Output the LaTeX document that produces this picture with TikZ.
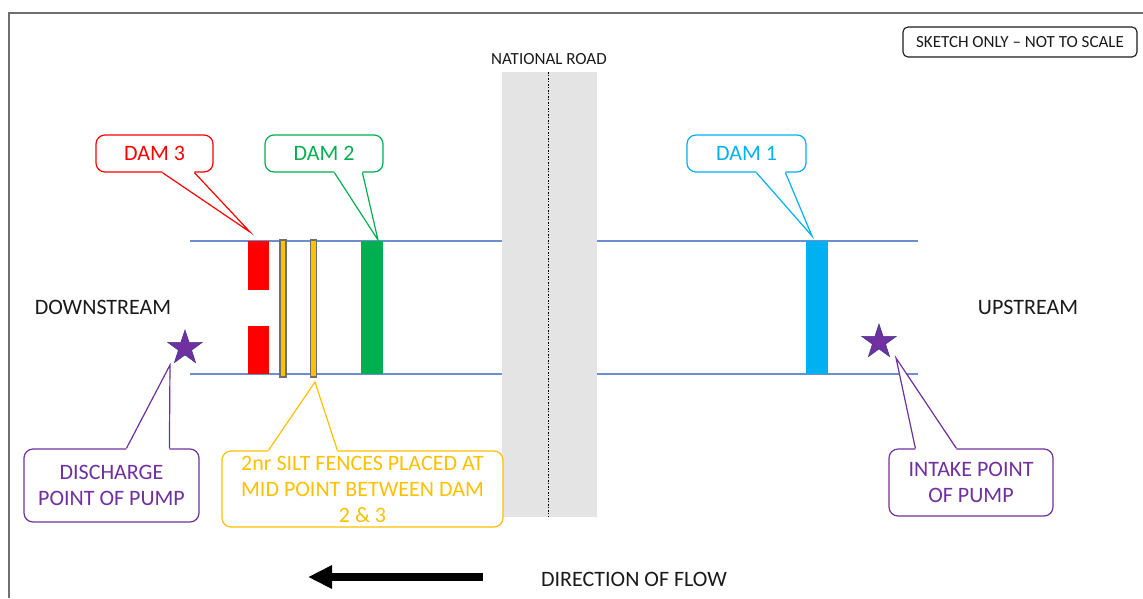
\documentclass[tikz,border=0pt]{standalone}
\usepackage{fontspec}
\setmainfont{Carlito}
\usetikzlibrary{arrows.meta,positioning,shapes.geometric}
\definecolor{damred}{HTML}{FF0000}
\definecolor{damgreen}{HTML}{00B050}
\definecolor{damblue}{HTML}{00B0F0}
\definecolor{siltorange}{HTML}{FFC000}
\definecolor{pumppurple}{HTML}{7030A0}
\definecolor{riverblue}{HTML}{6C8ECF}
\definecolor{roadgray}{HTML}{E4E4E4}
\definecolor{fencegray}{HTML}{6F6F6F}
\definecolor{starline}{HTML}{3E3A8C}
\definecolor{txtblack}{HTML}{1A1A1A}

\begin{document}
\begin{tikzpicture}[x=1pt,y=-1pt,
        bigtxt/.style={font=\fontsize{22}{26}\selectfont, align=center},
        smalltxt/.style={font=\fontsize{17}{19}\selectfont, text=txtblack},
        damblock/.style={rectangle, inner sep=0pt, minimum width=22pt, minimum height=133pt},
        fence/.style={rectangle, inner sep=0pt, draw=fencegray, line width=1.1pt,
            fill=siltorange, minimum width=6pt, minimum height=137pt},
        callout/.style={rectangle, rounded corners=9pt, draw, fill=white,
            line width=1.2pt, inner sep=0pt, bigtxt},
        pump/.style={star, star points=5, star point ratio=2.6, minimum size=36pt,
            inner sep=0pt, fill=pumppurple, draw=starline, line width=0.6pt},
        flowarrow/.style={-{Triangle[length=24pt,width=22pt]}, line width=8pt}
        ]
        \useasboundingbox (0,0) rectangle (1143,598);

        % frame
        \draw[fencegray, line width=1.5pt] (9,598) -- (9,13) -- (1143,13);

        % river banks
        \draw[riverblue, line width=1.1pt] (190,241) -- (918,241);
        \draw[riverblue, line width=1.1pt] (190,374) -- (918,374);

        % road
        \node[rectangle, fill=roadgray, inner sep=0pt, minimum width=95pt,
            minimum height=445pt] (road) at (549.5,294.5) {};
        \draw[dash pattern=on 2pt off 1.5pt on 1pt off 1.5pt, line width=1pt] ([xshift=-1.5pt]road.north) -- ([xshift=-1.5pt]road.south);
        \node[smalltxt] (roadlbl) at (549,59) {NATIONAL ROAD};

        % dams and fences
        \node[damblock, fill=damred, minimum width=21pt, minimum height=49pt] (dam3a) at (258.5,265.5) {};
        \node[damblock, fill=damred, minimum width=21pt, minimum height=48pt] (dam3b) at (258.5,350) {};
        \node[fence] (fence1) at (283,308.5) {};
        \node[fence] (fence2) at (313.5,308.5) {};
        \node[damblock, fill=damgreen] (dam2) at (372,307.5) {};
        \node[damblock, fill=damblue] (dam1) at (817,307.5) {};

        % pumps
        \node[pump] (outpump) at (185,348) {};
        \node[pump] (inpump) at (879,342) {};

        \node[bigtxt, text=txtblack] (down) at (103,307) {DOWNSTREAM};
        \node[bigtxt, text=txtblack] (up) at (1028,307) {UPSTREAM};

        % callouts
        \node[callout, draw=damred, text=damred, minimum width=117pt, minimum height=37pt] (lbl3) at (154.5,153.5) {DAM 3};
        \node[callout, draw=damgreen, text=damgreen, minimum width=118pt, minimum height=37pt] (lbl2) at (324,153.5) {DAM 2};
        \node[callout, draw=damblue, text=damblue, minimum width=119pt, minimum height=37pt] (lbl1) at (746.5,153.5) {DAM 1};
        \node[callout, draw=pumppurple, text=pumppurple, minimum width=175pt, minimum height=73pt] (lbldis) at (111.5,485.5) {DISCHARGE\\POINT OF PUMP};
        \node[callout, draw=siltorange, text=siltorange, minimum width=281pt, minimum height=76pt] (lblsilt) at (362.5,489) {2nr SILT FENCES PLACED AT\\MID POINT BETWEEN DAM\\2 \& 3};
        \node[callout, draw=pumppurple, text=pumppurple, minimum width=164pt, minimum height=67pt] (lblin) at (971,482.5) {INTAKE POINT\\OF PUMP};

        \coordinate (t3) at (250,232);
        \coordinate (t2) at (378,240);
        \coordinate (t1) at (812,236);
        \coordinate (tdis) at (170,365);
        \coordinate (tsilt) at (315,382);
        \coordinate (tin) at (896,358);

        \foreach \bx/\a/\b/\tp/\col in {% box/base start/base end/tip/colour
            lbl3/67/99/t3/damred,
            lbl2/70/98/t2/damgreen,
            lbl1/70/99/t1/damblue}
            {
            \fill[white] ([xshift=\a pt,yshift=2pt]\bx.south west) -- ([xshift=\a pt]\bx.south west) -- (\tp)
                -- ([xshift=\b pt]\bx.south west) -- ([xshift=\b pt,yshift=2pt]\bx.south west) -- cycle;
            \draw[\col, line width=1.2pt] ([xshift=\a pt]\bx.south west) -- (\tp) -- ([xshift=\b pt]\bx.south west);
            }
        \foreach \bx/\a/\b/\tp/\col in {
            lbldis/103/146/tdis/pumppurple,
            lblsilt/47/116/tsilt/siltorange,
            lblin/27/68/tin/pumppurple}
            {
            \fill[white] ([xshift=\a pt,yshift=-2pt]\bx.north west) -- ([xshift=\a pt]\bx.north west) -- (\tp)
                -- ([xshift=\b pt]\bx.north west) -- ([xshift=\b pt,yshift=-2pt]\bx.north west) -- cycle;
            \draw[\col, line width=1.2pt] ([xshift=\a pt]\bx.north west) -- (\tp) -- ([xshift=\b pt]\bx.north west);
            }

        % note
        \node[rectangle, rounded corners=5pt, draw=txtblack, line width=1.1pt, inner sep=0pt,
            minimum width=234pt, minimum height=30pt, smalltxt] (note) at (1020,42) {SKETCH ONLY -- NOT TO SCALE};

        % flow direction
        \coordinate (flowstart) at (483,577);
        \coordinate (flowend) at (308,577);
        \draw[flowarrow] (flowstart) -- (flowend);
        \node[bigtxt, text=txtblack] (flowlbl) at (634,579) {DIRECTION OF FLOW};
\end{tikzpicture}
\end{document}
